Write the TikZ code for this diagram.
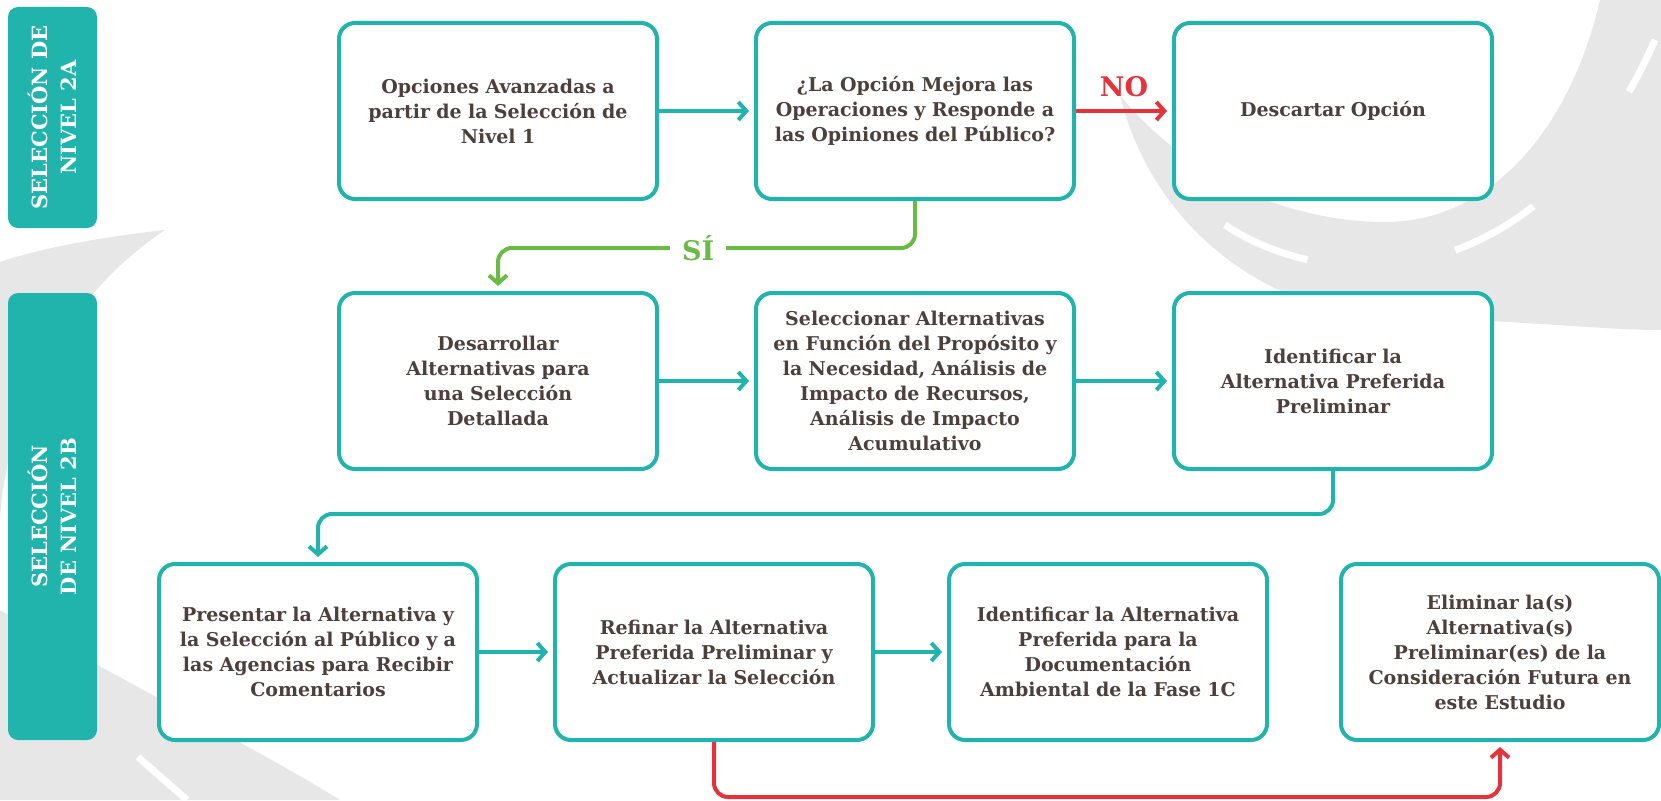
\documentclass[tikz,border=0pt]{standalone}
\usepackage{fontspec}
\setmainfont{DejaVu Serif}
\usepackage{tikz}
\usetikzlibrary{arrows.meta,positioning}
\tikzstyle{chart} = [x = 1pt, y = -1pt]
\definecolor{tealColor}{RGB}{32,180,172}
\definecolor{greenColor}{RGB}{108,186,70}
\definecolor{redColor}{RGB}{230,50,58}
\definecolor{textColor}{RGB}{77,64,60}
\definecolor{roadGray}{RGB}{231,231,231}
\newcommand{\stepFont}{\fontsize{19}{25}\selectfont\bfseries}
\newcommand{\barFont}{\fontsize{21}{29}\selectfont\bfseries}
\newcommand{\decisionFont}{\fontsize{27}{30}\selectfont\bfseries}
\tikzstyle{stepStyle} = [draw=tealColor, fill=white, line width=4pt, rounded corners=16pt, minimum width=318pt, minimum height=176pt, text width=300pt, inner sep=0pt, align=center, text=textColor, font=\stepFont]
\tikzstyle{barStyle} = [fill=tealColor, rounded corners=10pt, rotate=90, minimum height=89pt, inner sep=0pt, align=center, text=white, font=\barFont]
\tikzstyle{flowArrow} = [line width=4pt, -{Straight Barb[length=8pt, width=18pt]}, shorten >=5pt, rounded corners=14pt]
\tikzstyle{decisionText} = [font=\decisionFont, inner sep=0pt]
\tikzstyle{roadStyle} = [fill=roadGray]
\tikzstyle{laneStyle} = [draw=white, line width=7pt]
\newcommand{\stepNode}[4]{\node [stepStyle] (#1) at (#2, #3) {#4};}
\newcommand{\barNode}[5]{\node [barStyle, minimum width=#4] (#1) at (#2, #3) {#5};}

\begin{document}
\begin{tikzpicture}[chart]
\useasboundingbox [fill=white] (0,0) rectangle (1661,800);
\fill [roadStyle] (1120,95) .. controls (1150,220) and (1260,315) .. (1400,318) .. controls (1520,320) and (1600,330) .. (1661,330) -- (1661,0) -- (1600,0) .. controls (1570,130) and (1490,222) .. (1385,222) .. controls (1280,222) and (1180,170) .. (1120,95) -- cycle;
\draw [laneStyle, dash pattern=on 90pt off 150pt] (1225,225) .. controls (1330,295) and (1540,300) .. (1655,40);
\fill [roadStyle] (0,262) .. controls (50,245) and (120,235) .. (165,230) .. controls (60,300) and (5,420) .. (0,520) -- cycle;
\fill [roadStyle] (0,610) .. controls (120,680) and (260,750) .. (340,800) -- (0,800) -- cycle;
\draw [laneStyle] (138,757) -- (187,800);
\barNode{levelA}{52.5}{117.5}{221pt}{SELECCIÓN DE\\NIVEL 2A}
\barNode{levelB}{52.5}{516.5}{447pt}{SELECCIÓN\\DE NIVEL 2B}
\stepNode{opciones}{498}{111}{Opciones Avanzadas a\\partir de la Selección de\\Nivel 1}
\stepNode{mejora}{915}{111}{¿La Opción Mejora las\\Operaciones y Responde a\\las Opiniones del Público?}
\stepNode{descartar}{1333}{111}{Descartar Opción}
\stepNode{desarrollar}{498}{381}{Desarrollar\\Alternativas para\\una Selección\\Detallada}
\stepNode{seleccionar}{915}{381}{Seleccionar Alternativas\\en Función del Propósito y\\la Necesidad, Análisis de\\Impacto de Recursos,\\Análisis de Impacto\\Acumulativo}
\stepNode{identificar}{1333}{381}{Identificar la\\Alternativa Preferida\\Preliminar}
\stepNode{presentar}{318}{652}{Presentar la Alternativa y\\la Selección al Público y a\\las Agencias para Recibir\\Comentarios}
\stepNode{refinar}{714}{652}{Refinar la Alternativa\\Preferida Preliminar y\\Actualizar la Selección}
\stepNode{documentar}{1108}{652}{Identificar la Alternativa\\Preferida para la\\Documentación\\Ambiental de la Fase 1C}
\stepNode{eliminar}{1500}{652}{Eliminar la(s)\\Alternativa(s)\\Preliminar(es) de la\\Consideración Futura en\\este Estudio}
\draw [flowArrow, tealColor] (opciones.east) -- (mejora.west);
\draw [flowArrow, redColor] (mejora.east) -- node [decisionText, above=12pt] {NO} (descartar.west);
\draw [flowArrow, greenColor] (mejora.south) -- ++(0,47) -| node [pos=.26, decisionText, fill=white, inner xsep=12pt, inner ysep=2pt] {SÍ} (desarrollar.north);
\draw [flowArrow, tealColor] (desarrollar.east) -- (seleccionar.west);
\draw [flowArrow, tealColor] (seleccionar.east) -- (identificar.west);
\draw [flowArrow, tealColor] (identificar.south) -- ++(0,43) -| (presentar.north);
\draw [flowArrow, tealColor] (presentar.east) -- (refinar.west);
\draw [flowArrow, tealColor] (refinar.east) -- (documentar.west);
\draw [flowArrow, redColor] (refinar.south) -- ++(0,55) -| (eliminar.south);
\end{tikzpicture}
\end{document}
